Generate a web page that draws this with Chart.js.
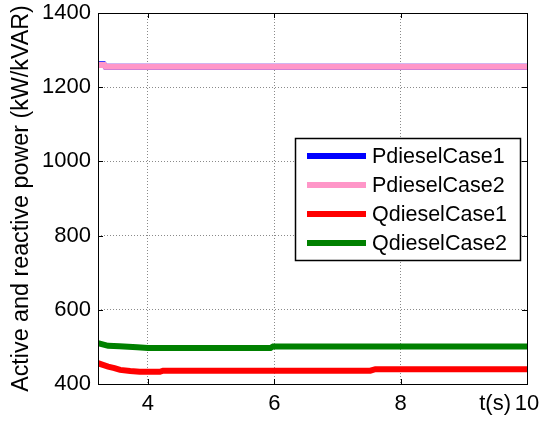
<!DOCTYPE html>
<html>
<head>
<meta charset="utf-8">
<script src="https://cdn.jsdelivr.net/npm/chart.js@4.4.1/dist/chart.umd.min.js"></script>
<style>
body { margin: 0; background: #fff; }
#wrap { width: 542px; height: 421px; }
</style>
</head>
<body>
<div id="wrap"><canvas id="myChart" width="542" height="421"></canvas></div>
<script>
// tempo (s) e potencia
const tP1 = [3.21, 3.30, 3.33, 10]
const pDiesel1 = [1262, 1262, 1255, 1255]
const tP2 = [3.21, 3.31, 3.33, 10]
const pDiesel2 = [1260, 1260, 1255, 1255]
const tQ1 = [3.21, 3.30, 3.37, 3.47, 3.56, 3.72, 3.87, 4.19, 4.24, 4.5, 7.52, 7.6, 10]
const qDiesel1 = [456, 451, 447, 443, 438, 435, 433, 433, 436, 436, 436, 440, 440]
const tQ2 = [3.21, 3.37, 3.55, 3.83, 4.0, 5.94, 5.98, 10]
const qDiesel2 = [510, 503, 502, 499, 497, 497, 501, 501]

const xTicks = [4, 6, 8, 10]
const yTicks = [400, 600, 800, 1000, 1200, 1400]
const nomes = ['PdieselCase1', 'PdieselCase2', 'QdieselCase1', 'QdieselCase2']
const cores = ['#0000ff', '#ff96c8', '#ff0000', '#008000']

const fonte = '"Liberation Sans", Arial, sans-serif'
Chart.defaults.font.family = fonte
Chart.defaults.color = '#000'

function pontos(t, v) {
    return t.map((x, i) => ({ x: x, y: v[i] }))
}

// sem padding automatico dos rotulos, a area fica onde o layout manda
function semPadding(s) {
    s.paddingTop = 0
    s.paddingBottom = 0
    s.paddingLeft = 0
    s.paddingRight = 0
}

// caixa, marcas internas, t(s) e legenda
const moldura = {
    id: 'moldura',
    afterDraw(chart) {
        const c = chart.ctx
        const a = chart.chartArea
        const sx = chart.scales.x
        const sy = chart.scales.y
        c.save()
        c.strokeStyle = '#000'
        c.lineWidth = 1
        c.strokeRect(a.left + 0.5, a.top + 0.5, a.right - a.left, a.bottom - a.top)
        c.beginPath()
        sx.ticks.forEach(t => {
            let px = Math.round(sx.getPixelForValue(t.value)) + 0.5
            c.moveTo(px, a.bottom); c.lineTo(px, a.bottom - 5)
            c.moveTo(px, a.top); c.lineTo(px, a.top + 5)
        })
        sy.ticks.forEach(t => {
            let py = Math.round(sy.getPixelForValue(t.value)) + 0.5
            c.moveTo(a.left, py); c.lineTo(a.left + 5, py)
            c.moveTo(a.right, py); c.lineTo(a.right - 5, py)
        })
        c.stroke()

        c.fillStyle = '#000'
        c.font = '22px ' + fonte
        c.textAlign = 'right'
        c.textBaseline = 'middle'
        c.fillText('t(s)', sx.getPixelForValue(10) - 16, a.bottom + 20)

        // legenda
        let lx = 295, ly = 138, lw = 225, lh = 122
        c.fillStyle = '#fff'
        c.fillRect(lx, ly, lw, lh)
        c.strokeStyle = '#000'
        c.lineWidth = 1.5
        c.strokeRect(lx + 0.5, ly + 0.5, lw, lh)
        c.font = '21.5px ' + fonte
        c.textAlign = 'left'
        chart.data.datasets.forEach((ds, i) => {
            let yc = ly + 18 + i * 29
            c.strokeStyle = ds.borderColor
            c.lineWidth = 6
            c.beginPath()
            c.moveTo(lx + 12, yc)
            c.lineTo(lx + 71, yc)
            c.stroke()
            c.fillStyle = '#000'
            c.fillText(ds.label, lx + 77, yc + 1)
        })
        c.restore()
    }
}

const series = [pontos(tP1, pDiesel1), pontos(tP2, pDiesel2), pontos(tQ1, qDiesel1), pontos(tQ2, qDiesel2)]
const ordem = [2, 1, 0, 0]

const ctx = document.getElementById('myChart').getContext('2d')
let myChart = new Chart(ctx, {
    type: 'line',
    data: {
        datasets: series.map((d, i) => ({
            label: nomes[i],
            data: d,
            borderColor: cores[i],
            backgroundColor: cores[i],
            borderWidth: 6,
            pointRadius: 0,
            tension: 0,
            order: ordem[i]
        }))
    },
    options: {
        responsive: false,
        animation: false,
        layout: { padding: { top: 13, right: 15, left: 0, bottom: 0 } },
        plugins: {
            legend: { display: false },
            tooltip: { enabled: false }
        },
        scales: {
            x: {
                type: 'linear',
                min: 3.21,
                max: 10,
                afterBuildTicks: s => { s.ticks = xTicks.map(v => ({ value: v })) },
                afterFit: s => { s.height = 37; semPadding(s) },
                grid: { color: '#8a8a8a', drawTicks: false },
                border: { display: false, dash: [1, 2] },
                ticks: { font: { size: 22 }, padding: 7, maxRotation: 0, autoSkip: false, callback: v => String(v) }
            },
            y: {
                min: 400,
                max: 1400,
                afterBuildTicks: s => { s.ticks = yTicks.map(v => ({ value: v })) },
                afterFit: s => { s.width = 98; semPadding(s) },
                grid: { color: '#8a8a8a', drawTicks: false },
                border: { display: false, dash: [1, 2] },
                ticks: { font: { size: 22 }, padding: 7, callback: v => String(v) },
                title: {
                    display: true,
                    text: 'Active and reactive power (kW/kVAR)',
                    font: { size: 23.3 },
                    padding: { top: 8, bottom: 0 }
                }
            }
        }
    },
    plugins: [moldura]
})
</script>
</body>
</html>
